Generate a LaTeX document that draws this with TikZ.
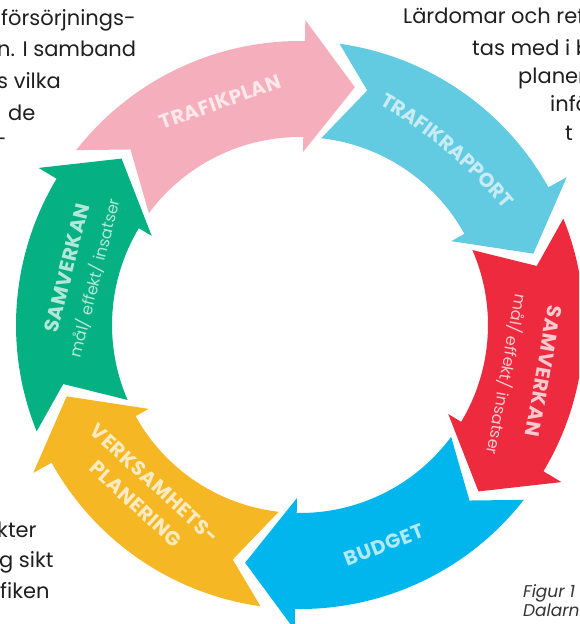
\documentclass[tikz,border=0pt]{standalone}
\usepackage{fontspec}
\setmainfont{Poppins}
\newfontfamily\rotulofont{Poppins}[LetterSpace=3]
\usetikzlibrary{decorations.text}

% colores del ciclo
\definecolor{rosa}{HTML}{F5AEBB}
\definecolor{celeste}{HTML}{62CAE1}
\definecolor{rojo}{HTML}{EE2A3E}
\definecolor{azul}{HTML}{00B6EC}
\definecolor{amarillo}{HTML}{F5B824}
\definecolor{verde}{HTML}{05B082}
\colorlet{rosatxt}{white!70!rosa}
\colorlet{celestetxt}{white!65!celeste}
\colorlet{rojotxt}{white!75!rojo}
\colorlet{azultxt}{white!70!azul}
\colorlet{amarillotxt}{white!72!amarillo}
\colorlet{verdetxt}{white!70!verde}

\begin{document}
\begin{tikzpicture}[x=1pt,y=1pt]

% definiciones
\newcommand{\radint}{188}   % radio interior del anillo
\newcommand{\radext}{284}   % radio exterior del anillo
\newcommand{\radpi}{173}    % punta, lado interior
\newcommand{\radpe}{305}    % punta, lado exterior
\newcommand{\radpunta}{244} % radio del vertice de la punta

% estilos de texto
\tikzstyle{rotulo}    = [font=\rotulofont\bfseries\fontsize{20}{28}\selectfont,inner sep=0pt,align=center]
\tikzstyle{subrotulo} = [font=\fontsize{16}{18}\selectfont,inner sep=0pt]
\tikzstyle{texto}     = [font=\fontsize{21}{30}\selectfont,text=black!88,inner sep=0pt]
\tikzstyle{pie}       = [font=\itshape\fontsize{17}{19}\selectfont,text=black!80,inner sep=0pt]

% flecha curva (sentido horario)
% #1: angulo de la punta
% #2: color de relleno
\newcommand{\flecha}[2]{
	\fill [#2] (#1+65:\radext) arc [start angle=#1+65, end angle=#1+12, radius=\radext]
	-- (#1+12:\radpe) -- (#1:\radpunta) -- (#1+12:\radpi) -- (#1+12:\radint)
	arc [start angle=#1+12, end angle=#1+66.5, radius=\radint]
	-- (#1+57:\radpunta) -- cycle;
}

% marco
\useasboundingbox (0,-624) rectangle (579,0);
\clip (0,-624) rectangle (579,0);
\fill [white] (0,-624) rectangle (579,0);

% anillo de flechas
\begin{scope}[shift={(300,-325)}]
\flecha{77}{rosa}
\flecha{17}{celeste}
\flecha{-43}{rojo}
\flecha{-103}{azul}
\flecha{-163}{amarillo}
\flecha{137}{verde}

% rotulos
\node [rotulo,text=rosatxt,rotate=19.7] (plan) at (109.7:237) {TRAFIKPLAN};
\begin{scope}[shift={(-143.7,-170.5)}]
\path [decorate,decoration={text along path,text align=center,
	text={|\rotulofont\bfseries\fontsize{20}{28}\selectfont\color{celestetxt}|TRAFIKRAPPORT}}]
	(62.85:450) arc [start angle=62.85, end angle=36.85, radius=450];
\end{scope}
\node [rotulo,text=rojotxt,rotate=-100] (samvder) at (-10.7:248) {SAMVERKAN};
\node [subrotulo,text=rojotxt,rotate=-100] (samvdersub) at (-13.5:213) {mål/ effekt/ insatser};
\node [rotulo,text=azultxt,rotate=21] (budget) at (-69.1:235.5) {BUDGET};
\node [rotulo,text=amarillotxt,rotate=-42.5] (verks) at (-132.5:229) {VERKSAMHETS-\\PLANERING};
\node [rotulo,text=verdetxt,rotate=76] (samvizq) at (166.25:240) {SAMVERKAN};
\node [subrotulo,text=verdetxt,rotate=76] (samvizqsub) at (167.1:211) {mål/ effekt/ insatser};
\end{scope}

% texto alrededor
\node [texto,anchor=base west] (izq1) at (1,-25) {försörjnings-};
\node [texto,anchor=base west] (izq2) at (-3,-56) {n. I samband};
\node [texto,anchor=base west] (izq3) at (-3,-88) {s vilka};
\node [texto,anchor=base west] (izq4) at (8,-120) {de};
\node [texto,anchor=base west] (izq5) at (-5,-146) {-};

\node [texto,anchor=base west] (der1) at (403,-23) {Lärdomar och ref};
\node [texto,anchor=base west] (der2) at (472,-55) {tas med i b};
\node [texto,anchor=base west] (der3) at (518,-83) {planer};
\node [texto,anchor=base west] (der4) at (550,-111) {infö};
\node [texto,anchor=base west] (der5) at (565,-140) {t};

\node [texto,anchor=base west] (abj1) at (-3,-537) {kter};
\node [texto,anchor=base west] (abj2) at (-1,-567) {g sikt};
\node [texto,anchor=base west] (abj3) at (0,-598) {fiken};

\node [pie,anchor=base west] (fig1) at (523,-597) {Figur 1};
\node [pie,anchor=base west] (fig2) at (523,-616) {Dalarn};

\end{tikzpicture}
\end{document}
